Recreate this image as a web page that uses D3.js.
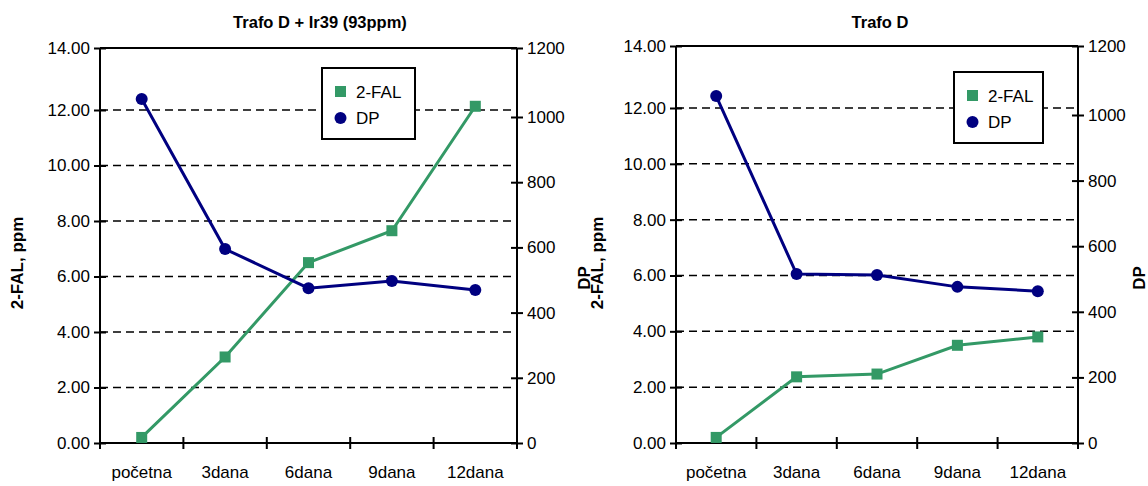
<!DOCTYPE html>
<html><head><meta charset="utf-8">
<script src="https://cdn.jsdelivr.net/npm/d3@7"></script>
<style>body{margin:0;background:#fff}svg{display:block}text{font-family:"Liberation Sans",Arial,sans-serif;fill:#000}</style>
</head><body><svg id="c" width="1148" height="486"></svg>
<script>
const categories = ["početna", "3dana", "6dana", "9dana", "12dana"];
const falIr39 = [0.2, 3.1, 6.5, 7.65, 12.12];
const dpIr39 = [1052, 595, 475, 497, 469];
const falD = [0.2, 2.37, 2.47, 3.5, 3.8];
const dpD = [1055, 515, 512, 476, 463];
const leftTicks = [0, 2, 4, 6, 8, 10, 12, 14];
const rightTicks = [0, 200, 400, 600, 800, 1000, 1200];
const gridTicks = [2, 4, 6, 8, 10, 12];
const titles = ["Trafo D + Ir39 (93ppm)", "Trafo D"];
const seriesNames = ["2-FAL", "DP"];
const leftTitle = "2-FAL, ppm";
const rightTitle = "DP";

const GREEN = "#339966", NAVY = "#000080";
const svg = d3.select("#c");

function drawChart(o) {
  const g = svg.append("g");
  const x = d3.scaleBand().domain(categories).range([o.x0, o.x1]).padding(0);
  const yL = d3.scaleLinear().domain([0, 12, 14]).range([o.yb, o.y12, o.yt]);
  const yR = d3.scaleLinear().domain([0, 1000, 1200]).range([o.yb, o.y1000, o.yt]);

  // gridlines
  g.selectAll(".grid").data(gridTicks).join("line")
    .attr("x1", o.x0).attr("x2", o.x1)
    .attr("y1", d => yL(d)).attr("y2", d => yL(d))
    .attr("stroke", "#000").attr("stroke-width", 1.5).attr("stroke-dasharray", "8,5");

  // frame
  g.append("line").attr("x1", o.x0).attr("x2", o.x1).attr("y1", o.yt).attr("y2", o.yt).attr("stroke", "#000").attr("stroke-width", 2);
  g.append("line").attr("x1", o.x0).attr("x2", o.x1).attr("y1", o.yb).attr("y2", o.yb).attr("stroke", "#000").attr("stroke-width", 2);
  g.append("line").attr("x1", o.x0).attr("x2", o.x0).attr("y1", o.yt).attr("y2", o.yb).attr("stroke", "#000").attr("stroke-width", 2);
  g.append("line").attr("x1", o.x1).attr("x2", o.x1).attr("y1", o.yt).attr("y2", o.yb).attr("stroke", "#000").attr("stroke-width", 2);

  // left axis
  const aL = g.append("g").attr("transform", `translate(${o.x0},0)`)
    .call(d3.axisLeft(yL).tickValues(leftTicks).tickFormat(d3.format(".2f")).tickSizeInner(5).tickSizeOuter(0));
  aL.select(".domain").remove();
  aL.selectAll(".tick line").attr("x1", 6).attr("x2", -6).attr("stroke-width", 2);
  aL.selectAll(".tick text").attr("x", -10).style("font-size", "17px").style("font-family", "Liberation Sans, Arial, sans-serif");

  // right axis
  const aR = g.append("g").attr("transform", `translate(${o.x1},0)`)
    .call(d3.axisRight(yR).tickValues(rightTicks).tickFormat(d3.format("d")).tickSizeInner(5).tickSizeOuter(0));
  aR.select(".domain").remove();
  aR.selectAll(".tick line").attr("x1", -6).attr("x2", 6).attr("stroke-width", 2);
  aR.selectAll(".tick text").attr("x", 10).style("font-size", "17px").style("font-family", "Liberation Sans, Arial, sans-serif");

  // bottom axis
  const bounds = categories.map(c => x(c)).concat([o.x1]);
  g.selectAll(".xt").data(bounds).join("line")
    .attr("x1", d => d).attr("x2", d => d).attr("y1", o.yb - 6).attr("y2", o.yb + 6)
    .attr("stroke", "#000").attr("stroke-width", 2);
  g.selectAll(".xl").data(categories).join("text")
    .attr("x", d => x(d) + x.bandwidth() / 2).attr("y", o.yb + 35)
    .attr("text-anchor", "middle").style("font-size", "17px").text(d => d);

  const cx = d => x(d) + x.bandwidth() / 2;
  // 2-FAL line
  const falData = categories.map((c, i) => [c, o.fal[i]]);
  g.append("path").datum(falData)
    .attr("d", d3.line().x(d => cx(d[0])).y(d => yL(d[1])))
    .attr("fill", "none").attr("stroke", GREEN).attr("stroke-width", 3);
  g.selectAll(".fs").data(falData).join("rect")
    .attr("x", d => cx(d[0]) - 5.5).attr("y", d => yL(d[1]) - 5.5)
    .attr("width", 11).attr("height", 11).attr("fill", GREEN);
  // DP line
  const dpData = categories.map((c, i) => [c, o.dp[i]]);
  g.append("path").datum(dpData)
    .attr("d", d3.line().x(d => cx(d[0])).y(d => yR(d[1])))
    .attr("fill", "none").attr("stroke", NAVY).attr("stroke-width", 3);
  g.selectAll(".dc").data(dpData).join("circle")
    .attr("cx", d => cx(d[0])).attr("cy", d => yR(d[1])).attr("r", 6).attr("fill", NAVY);

  // title
  g.append("text").attr("x", o.titleX).attr("y", 28).attr("text-anchor", "middle")
    .style("font-size", "16.5px").style("font-weight", "bold").text(o.title);

  // axis titles
  g.append("text").attr("transform", `translate(${o.ltX},${o.ltY}) rotate(-90)`)
    .attr("text-anchor", "middle").style("font-size", "17px").style("font-weight", "bold").text(leftTitle);
  g.append("text").attr("transform", `translate(${o.rtX},${o.rtY}) rotate(-90)`)
    .attr("text-anchor", "middle").style("font-size", "17px").style("font-weight", "bold").text(rightTitle);

  // legend
  const L = o.legend;
  g.append("rect").attr("x", L.x).attr("y", L.y).attr("width", L.w).attr("height", L.h)
    .attr("fill", "#fff").attr("stroke", "#000").attr("stroke-width", 2);
  g.append("rect").attr("x", L.x + 13).attr("y", L.y + 18).attr("width", 11).attr("height", 11).attr("fill", GREEN);
  g.append("circle").attr("cx", L.x + 18.5).attr("cy", L.y + 50).attr("r", 6).attr("fill", NAVY);
  g.append("text").attr("x", L.x + 34).attr("y", L.y + 30).style("font-size", "17px").text(seriesNames[0]);
  g.append("text").attr("x", L.x + 34).attr("y", L.y + 56).style("font-size", "17px").text(seriesNames[1]);
}

drawChart({x0: 100, x1: 517, yt: 48, y12: 110, y1000: 117, yb: 443,
  fal: falIr39, dp: dpIr39, title: titles[0], titleX: 320,
  ltX: 23, ltY: 263, rtX: 590, rtY: 278,
  legend: {x: 322, y: 68, w: 93, h: 71}});
drawChart({x0: 676, x1: 1078, yt: 46, y12: 108, y1000: 115, yb: 443,
  fal: falD, dp: dpD, title: titles[1], titleX: 880,
  ltX: 603, ltY: 263, rtX: 1145, rtY: 278,
  legend: {x: 954, y: 72, w: 89, h: 71}});
</script></body></html>
